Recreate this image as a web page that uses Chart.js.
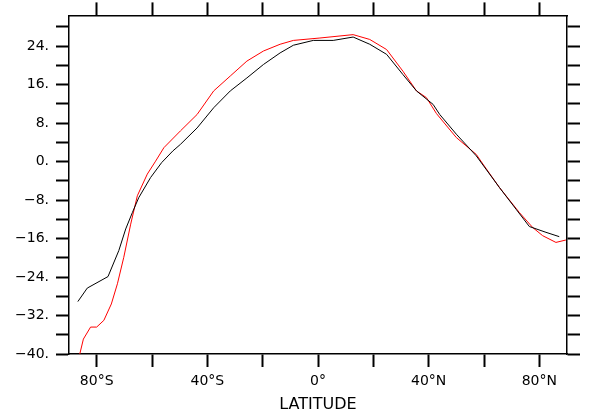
<!DOCTYPE html>
<html lang="en">
<head>
    <meta charset="UTF-8">
    <title>Latitude profile</title>
    <style>
        body { margin: 0; background: #fff; }
        #chart { display: block; }
    </style>
</head>
<body>

<canvas id="chart" width="590" height="417"></canvas>

<script src="https://cdn.jsdelivr.net/npm/chart.js"></script>
<script>
  // black curve
  const blackLat = [-86.8, -83.4, -75.9, -72, -69.5, -67.1, -64.8, -60.5, -56.5, -52.5, -49.7, -43.7, -37.7, -31.7, -25.7, -19.7, -13.7, -8.9, -1.7, 5.5, 12.7, 18.7, 24.8, 30.7, 35.6, 41.6, 44, 50, 57.2, 65.6, 71.6, 76.4, 82.4, 87.2];
  const blackVal = [-29.1, -26.3, -23.9, -18.5, -14.0, -10.6, -7.5, -3.3, -0.2, 2.2, 3.6, 7.0, 11.2, 14.7, 17.4, 20.2, 22.6, 24.2, 25.2, 25.2, 25.9, 24.4, 22.3, 18.1, 14.7, 11.9, 9.8, 5.7, 1.2, -5.4, -9.9, -13.5, -14.7, -15.6];

  // red curve
  const redLat = [-86.1, -84.8, -82.2, -80, -77.4, -74.7, -72.5, -70.2, -67.7, -65.3, -61.7, -58.7, -55.7, -49.7, -43.7, -37.7, -31.7, -25.7, -19.7, -13.7, -8.9, 0.7, 12.7, 18.7, 24.8, 30.7, 35.6, 39.2, 42.8, 50, 57.2, 59.6, 65.6, 72.8, 77.6, 81.2, 86, 89.6];
  const redVal = [-40, -36.9, -34.4, -34.4, -33.0, -29.6, -25.4, -19.9, -13.0, -7.1, -2.6, 0.1, 2.9, 6.4, 9.8, 14.7, 17.8, 20.9, 23.0, 24.4, 25.2, 25.7, 26.4, 25.4, 23.3, 18.8, 14.7, 13.3, 10.0, 5.0, 1.5, -0.5, -5.4, -10.6, -13.7, -15.4, -16.8, -16.3];

  // axes
  const xMin = -90, xMax = 90;
  const yMin = -40, yMax = 30.4;
  const xTicks = [-80, -60, -40, -20, 0, 20, 40, 60, 80];
  const xLabelValues = [-80, -40, 0, 40, 80];
  const xLabels = ['80°S', '40°S', '0°', '40°N', '80°N'];
  const yTicks = [-40, -36, -32, -28, -24, -20, -16, -12, -8, -4, 0, 4, 8, 12, 16, 20, 24, 28];
  const yLabelValues = [-40, -32, -24, -16, -8, 0, 8, 16, 24];
  const yLabels = ['\u221240.', '\u221232.', '\u221224.', '\u221216.', '\u22128.', '0.', '8.', '16.', '24.'];

  const font = { family: 'DejaVu Sans', size: 14 };

  function pts(xs, ys) {
    return xs.map((x, i) => ({ x: x, y: ys[i] }));
  }

  function gridOpts() {
    return { drawOnChartArea: false, drawTicks: true, tickLength: 13, tickWidth: 2, tickColor: '#000' };
  }
  function borderOpts() {
    return { display: true, color: '#000', width: 1.5 };
  }

  const ctx = document.getElementById('chart').getContext('2d');
  new Chart(ctx, {
    type: 'scatter',
    data: {
      datasets: [
        { data: pts(blackLat, blackVal), showLine: true, borderColor: '#000', borderWidth: 1, pointRadius: 0, fill: false },
        { data: pts(redLat, redVal), showLine: true, borderColor: '#ff0000', borderWidth: 1, pointRadius: 0, fill: false }
      ]
    },
    options: {
      responsive: false,
      animation: false,
      layout: { padding: 0 },
      plugins: { legend: { display: false }, tooltip: { enabled: false } },
      scales: {
        x: {
          type: 'linear', position: 'bottom', min: xMin, max: xMax,
          afterBuildTicks: s => { s.ticks = xTicks.map(v => ({ value: v })); },
          afterFit: s => { s.height = 63; },
          grid: gridOpts(), border: borderOpts(),
          ticks: {
            autoSkip: false, maxRotation: 0, padding: 6, color: '#000', font: font,
            callback: v => { const i = xLabelValues.indexOf(v); return i >= 0 ? xLabels[i] : ''; }
          },
          title: { display: true, text: 'LATITUDE', color: '#000', font: { family: 'DejaVu Sans', size: 16 }, padding: { top: 0, bottom: 3 } }
        },
        x2: {
          type: 'linear', position: 'top', min: xMin, max: xMax,
          afterBuildTicks: s => { s.ticks = xTicks.map(v => ({ value: v })); },
          afterFit: s => { s.height = 14; },
          grid: gridOpts(), border: borderOpts(),
          ticks: { display: false }
        },
        y: {
          type: 'linear', position: 'left', min: yMin, max: yMax,
          afterBuildTicks: s => { s.ticks = yTicks.map(v => ({ value: v })); },
          afterFit: s => { s.width = 69; },
          grid: gridOpts(), border: borderOpts(),
          ticks: {
            autoSkip: false, padding: 7, color: '#000', font: font,
            callback: v => { const i = yLabelValues.indexOf(v); return i >= 0 ? yLabels[i] : ''; }
          }
        },
        y2: {
          type: 'linear', position: 'right', min: yMin, max: yMax,
          afterBuildTicks: s => { s.ticks = yTicks.map(v => ({ value: v })); },
          afterFit: s => { s.width = 23; },
          grid: gridOpts(), border: borderOpts(),
          ticks: { display: false }
        }
      }
    }
  });
</script>

</body>
</html>
